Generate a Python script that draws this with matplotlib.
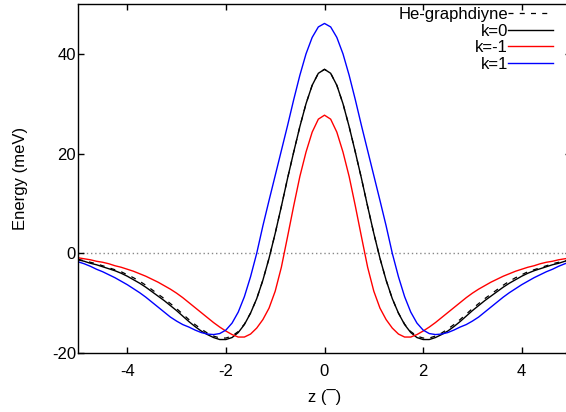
import numpy as np
import matplotlib
matplotlib.use("Agg")
from matplotlib import pyplot as plt

plt.rcParams['font.family'] = ['Liberation Sans', 'DejaVu Sans']
plt.rcParams['axes.unicode_minus'] = False

# the curves are symmetric in z, so only z >= 0 is read off the picture
# z in Angstrom, energies in meV
z_half = [0.0, 0.125, 0.25, 0.375, 0.5, 0.625, 0.75, 0.875, 1.0, 1.125, 1.25, 1.375,
          1.5, 1.625, 1.75, 1.875, 2.0, 2.125, 2.25, 2.375, 2.5, 2.625, 2.75, 2.875,
          3.0, 3.125, 3.25, 3.375, 3.5, 3.625, 3.75, 3.875, 4.0, 4.125, 4.25, 4.375,
          4.5, 4.625, 4.75, 4.875, 5.0]

he_graphdiyne_half = [36.9, 36.1, 33.7, 30.0, 25.4, 20.3, 15.0, 9.4, 4.0, -1.0, -5.4, -9.1,
                      -12.0, -14.2, -15.7, -16.6, -17.0, -17.0, -16.6, -16.0, -15.2, -14.3, -13.3, -12.2,
                      -11.1, -10.1, -9.1, -8.2, -7.3, -6.4, -5.6, -4.9, -4.3, -3.7, -3.3, -2.9,
                      -2.5, -2.1, -1.8, -1.5, -1.2]

k0_half = [36.9, 36.1, 33.7, 30.0, 25.4, 20.3, 15.0, 9.4, 4.0, -1.0, -5.4, -9.1,
           -12.0, -14.3, -15.9, -16.9, -17.3, -17.3, -16.9, -16.3, -15.6, -14.7, -13.7, -12.6,
           -11.5, -10.5, -9.5, -8.6, -7.7, -6.8, -6.0, -5.3, -4.6, -4.0, -3.5, -3.1,
           -2.7, -2.3, -2.0, -1.6, -1.3]

km1_half = [27.7, 26.9, 24.3, 20.3, 15.4, 9.5, 3.3, -2.8, -7.6, -11.0, -13.3, -15.0,
            -16.2, -16.8, -16.8, -16.3, -15.6, -14.8, -13.9, -12.9, -11.9, -10.9, -9.9, -8.9,
            -8.0, -7.2, -6.5, -5.8, -5.2, -4.6, -4.1, -3.6, -3.2, -2.8, -2.5, -2.1,
            -1.8, -1.6, -1.3, -1.1, -0.9]

k1_half = [46.1, 45.4, 43.3, 40.0, 35.7, 30.8, 25.6, 20.6, 15.6, 10.6, 5.5, 0.0,
           -4.7, -8.7, -11.8, -14.0, -15.4, -16.1, -16.3, -16.2, -15.9, -15.4, -14.8, -14.3,
           -13.6, -12.8, -11.8, -10.8, -9.8, -8.8, -7.9, -7.1, -6.3, -5.6, -4.9, -4.3,
           -3.7, -3.2, -2.6, -2.1, -1.7]

xticks = [-4, -2, 0, 2, 4]
yticks = [-20, 0, 20, 40]


def mirror(vals):
    return list(vals[:0:-1]) + list(vals)


z = [-v for v in z_half[:0:-1]] + list(z_half)

fig = plt.figure(figsize=(5.66, 4.12), dpi=100)
# axes runs a bit past the right edge, like the cropped original
ax = fig.add_axes([78 / 566, 59 / 412, 493 / 566, 349 / 412])

ax.axhline(0, color='#888888', lw=1.0, ls=(0, (1, 2)), zorder=1)

ax.plot(z, mirror(he_graphdiyne_half), color='black', lw=0.9, ls=(0, (4, 5)), label='He-graphdiyne')
ax.plot(z, mirror(k0_half), color='black', lw=1.0, label='k=0')
ax.plot(z, mirror(km1_half), color='red', lw=1.0, label='k=-1')
ax.plot(z, mirror(k1_half), color='blue', lw=1.0, label='k=1')

ax.set_xlim(-5, 5)
ax.set_ylim(-20, 50)
ax.set_xticks(xticks)
ax.set_yticks(yticks)
ax.tick_params(direction='in', length=4, width=1, labelsize=12,
               top=True, right=True)
ax.tick_params(axis='x', pad=8)
ax.tick_params(axis='y', pad=1.5)
for s in ax.spines.values():
    s.set_linewidth(1.0)

ax.set_xlabel('z (¯)', fontsize=12)
ax.set_ylabel('Energy (meV)', fontsize=12)
ax.xaxis.set_label_coords(0.5, -0.103)
ax.yaxis.set_label_coords(-0.101, 0.5)

fig.legend(loc='upper right', bbox_to_anchor=(553 / 566, 405 / 412),
           frameon=False, markerfirst=False, fontsize=12,
           handlelength=2.7, handletextpad=0.0, labelspacing=0.1,
           borderpad=0, borderaxespad=0)

fig.savefig('out.png', dpi=100)
